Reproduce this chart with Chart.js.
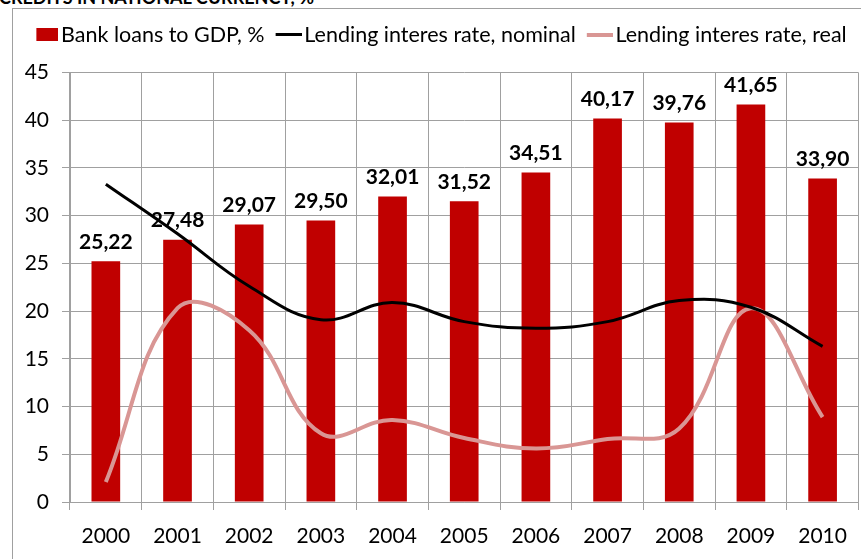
<!DOCTYPE html>
<html>
<head>
<meta charset="utf-8">
<script src="https://cdn.jsdelivr.net/npm/chart.js@4"></script>
<style>
  body { margin: 0; background: #fff; overflow: hidden; }
  #wrap { position: relative; width: 861px; height: 559px; }
  #frame { position: absolute; left: 12px; top: 8px; width: 900px; height: 600px;
           border-left: 1px solid #a0a0a0; border-top: 1px solid #a0a0a0; }
  #title { position: absolute; left: -1px; top: -14px; font: bold 18px Lato, sans-serif;
           color: #000; white-space: nowrap; }
  canvas { position: absolute; left: 0; top: 0; }
</style>
</head>
<body>
<div id="wrap">
  <div id="title">CREDITS IN NATIONAL CURRENCY, %</div>
  <div id="frame"></div>
  <canvas id="chart" width="861" height="559"></canvas>
</div>
<script>
const years = ['2000', '2001', '2002', '2003', '2004', '2005', '2006', '2007', '2008', '2009', '2010'];
const bankLoans = [25.22, 27.48, 29.07, 29.50, 32.01, 31.52, 34.51, 40.17, 39.76, 41.65, 33.90];
const nominalRate = [33.3, 28.1, 22.6, 19.1, 20.9, 18.9, 18.2, 18.9, 21.1, 20.4, 16.3];
const realRate = [2.1, 20.3, 18.0, 7.2, 8.6, 6.7, 5.6, 6.6, 7.7, 20.3, 8.9];
const seriesNames = ['Bank loans to GDP, %', 'Lending interes rate, nominal', 'Lending interes rate, real'];

const RED = '#c00000';
const PINK = '#d99694';
const GRID = '#a0a0a0';
const FONT = 'Lato, sans-serif';

// legend symbols; the mark sits at the right of a 36px image so it hugs the text
function swatch(w, h, color) {
  const c = document.createElement('canvas');
  c.width = 36; c.height = h;
  const g = c.getContext('2d');
  g.fillStyle = color;
  g.fillRect(36 - w, 0, w, h);
  return c;
}
const legendSymbols = [swatch(22, 13, RED), swatch(26, 3, '#000'), swatch(26, 4, PINK)];

// keep the legend on one row, leave room under it, and nudge it right like the original
const legendTweak = {
  id: 'legendTweak',
  beforeInit(chart) {
    const fit = chart.legend.fit;
    chart.legend.fit = function () {
      this.maxWidth += 60;
      fit.bind(chart.legend)();
      this.maxWidth -= 60;
      this.width = this.maxWidth;
      this.height += 17;
    };
  },
  afterLayout(chart) {
    chart.legend.left -= 56;
    chart.legend.right += 60;
  }
};

const barLabels = {
  id: 'barLabels',
  afterDatasetDraw(chart, args) {
    if (args.index !== 0) return;
    const ctx = chart.ctx;
    ctx.save();
    ctx.font = 'bold 21px ' + FONT;
    ctx.fillStyle = '#000';
    ctx.textAlign = 'center';
    ctx.textBaseline = 'middle';
    args.meta.data.forEach((bar, i) => {
      ctx.fillText(bankLoans[i].toFixed(2).replace('.', ','), bar.x, bar.y - 19);
    });
    ctx.restore();
  }
};

const ctx = document.getElementById('chart').getContext('2d');
new Chart(ctx, {
    type: 'bar',
    data: {
        labels: years,
        datasets: [{
            label: seriesNames[0],
            data: bankLoans,
            backgroundColor: RED,
            categoryPercentage: 1,
            barPercentage: 0.4,
            order: 2
        }, {
            type: 'line',
            label: seriesNames[1],
            data: nominalRate,
            borderColor: '#000',
            borderWidth: 3,
            pointRadius: 0,
            tension: 0.4,
            order: 0
        }, {
            type: 'line',
            label: seriesNames[2],
            data: realRate,
            borderColor: PINK,
            borderWidth: 4,
            pointRadius: 0,
            tension: 0.4,
            order: 1
        }]
    },
    options: {
        responsive: false,
        animation: false,
        devicePixelRatio: 1,
        layout: { padding: { left: 13, right: 1, top: 15, bottom: 0 } },
        plugins: {
            tooltip: { enabled: false },
            legend: {
                labels: {
                    usePointStyle: true,
                    pointStyleWidth: 20,
                    padding: 9,
                    color: '#000',
                    font: { family: FONT, size: 21.5 },
                    generateLabels(chart) {
                        const items = Chart.defaults.plugins.legend.labels.generateLabels(chart);
                        items.sort((a, b) => a.datasetIndex - b.datasetIndex);
                        items.forEach(it => { it.pointStyle = legendSymbols[it.datasetIndex]; });
                        return items;
                    }
                }
            }
        },
        scales: {
            x: {
                grid: { color: GRID, tickLength: 8, offset: true },
                border: { color: GRID },
                ticks: { color: '#000', padding: 14, font: { family: FONT, size: 21 } },
                afterFit(scale) { scale.height = 57; }
            },
            y: {
                min: 0,
                max: 45,
                grid: { color: GRID, tickLength: 8 },
                border: { color: GRID },
                ticks: { stepSize: 5, color: '#000', padding: 13, font: { family: FONT, size: 21 } },
                afterFit(scale) { scale.width = 57; }
            }
        }
    },
    plugins: [legendTweak, barLabels]
});
</script>
</body>
</html>
